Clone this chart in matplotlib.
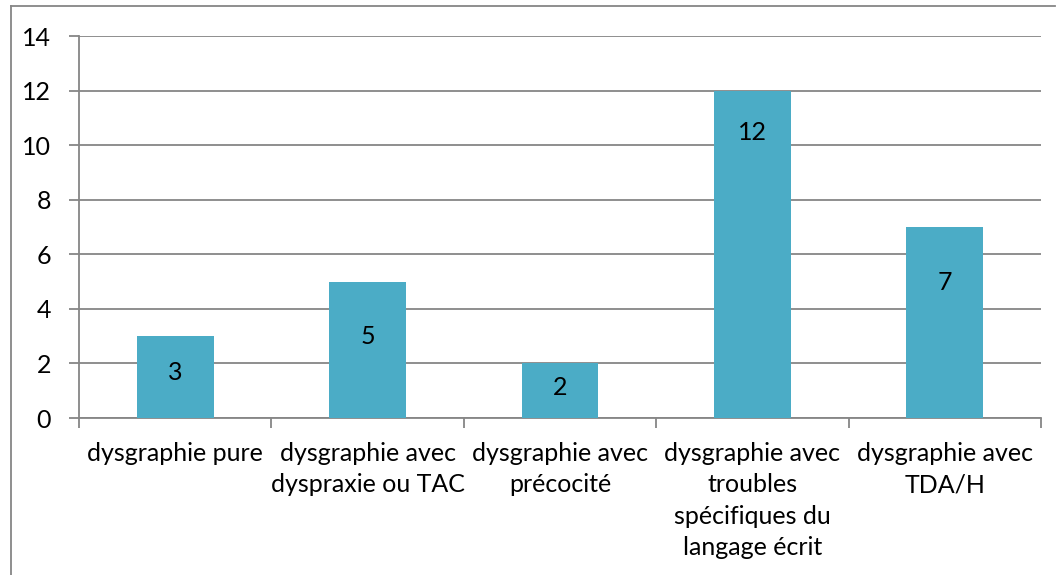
import matplotlib.pyplot as plt
from matplotlib.lines import Line2D
import numpy as np

categories = [
    "dysgraphie pure",
    "dysgraphie avec\ndyspraxie ou TAC",
    "dysgraphie avec\nprécocité",
    "dysgraphie avec\ntroubles\nspécifiques du\nlangage écrit",
    "dysgraphie avec\nTDA/H",
]
values = [3, 5, 2, 12, 7]
# data label heights as they appear in the picture (axis units)
label_y = [1.65, 2.97, 1.1, 10.45, 4.98]

bar_color = "#4BACC6"
line_color = "#868686"

plt.rcParams['font.family'] = ['Lato', 'DejaVu Sans']

fig = plt.figure(figsize=(10.56, 5.75), dpi=100)
ax = fig.add_axes([79 / 1056, 1 - 418 / 575, (1041 - 79) / 1056, (418 - 36) / 575])

x = np.arange(len(values))
ax.bar(x, values, width=0.4, color=bar_color, zorder=3)
for xi, yi, v in zip(x, label_y, values):
    ax.text(xi, yi, str(v), ha='center', va='center', fontsize=18, zorder=4)

ax.set_xlim(-0.5, len(values) - 0.5)
ax.set_ylim(0, 14)
ax.set_yticks(range(0, 15, 2))
ax.yaxis.grid(True, color=line_color, linewidth=1.3, zorder=0)

ax.set_xticks(np.arange(-0.5, len(values), 1.0))
ax.set_xticklabels([])
ax.set_xticks(x, minor=True)
ax.set_xticklabels(categories, minor=True, fontsize=18, linespacing=1.45, va='top')
ax.tick_params(axis='x', which='minor', length=0, pad=17)
ax.tick_params(axis='x', which='major', length=7, color=line_color, width=1.3)
ax.tick_params(axis='y', length=7, color=line_color, width=1.3, labelsize=18, pad=13)

for side in ['top', 'right']:
    ax.spines[side].set_visible(False)
for side in ['left', 'bottom']:
    ax.spines[side].set_color(line_color)
    ax.spines[side].set_linewidth(1.3)

# outer chart border
fig.add_artist(Line2D([11 / 1056, 11 / 1056], [0, 1 - 6 / 575], color=line_color, linewidth=1.3))
fig.add_artist(Line2D([11 / 1056, 1055 / 1056], [1 - 6 / 575, 1 - 6 / 575], color=line_color, linewidth=1.3))

fig.savefig("out.png", dpi=100)
